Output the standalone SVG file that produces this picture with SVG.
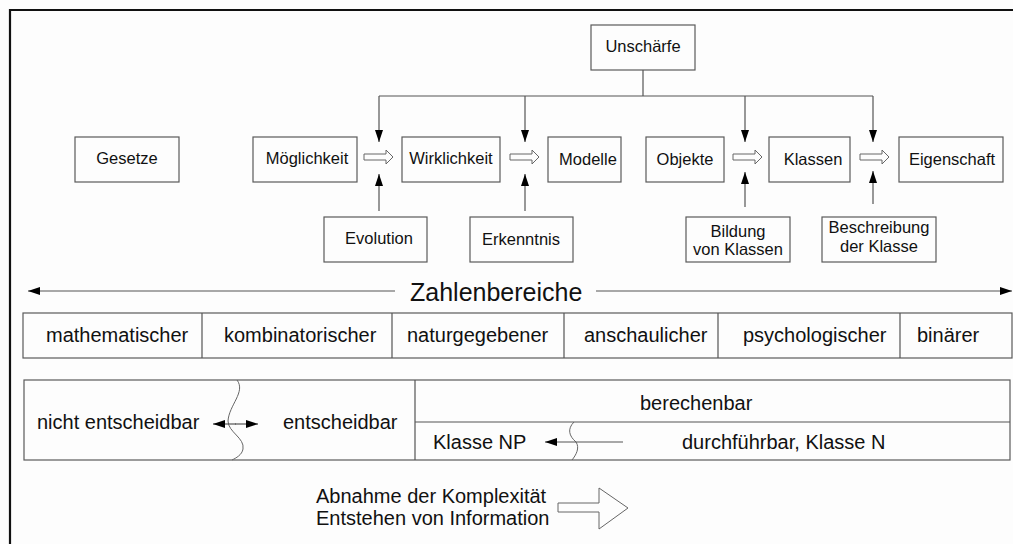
<svg xmlns="http://www.w3.org/2000/svg" width="1013" height="544" viewBox="0 0 1013 544">
<defs>
<style>
.box{fill:#fdfdfd;stroke:#5a5a5a;stroke-width:1.2}
.t{font-family:"Liberation Sans",Arial,sans-serif;font-size:16.5px;fill:#111}
.tc{text-anchor:middle}
.big{font-family:"Liberation Sans",Arial,sans-serif;font-size:20px;fill:#111}
.ln{fill:none;stroke:#555;stroke-width:1.2}
.hol{fill:#fdfdfd;stroke:#666;stroke-width:1}
.wave{fill:none;stroke:#666;stroke-width:1}
</style>
<marker id="ah" viewBox="0 0 12 8" refX="12" refY="4" markerWidth="12" markerHeight="8" markerUnits="userSpaceOnUse" orient="auto">
<path d="M0,0 L12,4 L0,8 Z" fill="#000"/>
</marker>
</defs>
<rect x="0" y="0" width="1013" height="544" fill="#fdfdfd"/>
<path d="M10,544 L10,10 L1013,10" fill="none" stroke="#111" stroke-width="2.2"/>

<g id="n-unschaerfe"><rect class="box" x="591" y="25" width="104" height="45"/><text class="t tc" x="643" y="52">Unschärfe</text></g>
<g id="n-gesetze"><rect class="box" x="75" y="137" width="104" height="45"/><text class="t tc" x="127" y="164">Gesetze</text></g>
<g id="n-moeglichkeit"><rect class="box" x="253" y="137" width="104" height="45"/><text class="t tc" x="307" y="164">Möglichkeit</text></g>
<g id="n-wirklichkeit"><rect class="box" x="402" y="137" width="98" height="45"/><text class="t tc" x="451" y="164">Wirklichkeit</text></g>
<g id="n-modelle"><rect class="box" x="548" y="137" width="73" height="45"/><text class="t tc" x="588" y="165">Modelle</text></g>
<g id="n-objekte"><rect class="box" x="646" y="137" width="78" height="45"/><text class="t tc" x="685" y="165">Objekte</text></g>
<g id="n-klassen"><rect class="box" x="769" y="137" width="81" height="45"/><text class="t tc" x="813" y="165">Klassen</text></g>
<g id="n-eigenschaft"><rect class="box" x="899" y="137" width="104" height="45"/><text class="t tc" x="952" y="165">Eigenschaft</text></g>
<g id="n-evolution"><rect class="box" x="324" y="217" width="103" height="45"/><text class="t tc" x="379" y="244">Evolution</text></g>
<g id="n-erkenntnis"><rect class="box" x="470" y="217" width="103" height="45"/><text class="t tc" x="521" y="245">Erkenntnis</text></g>
<g id="n-bildung"><rect class="box" x="686" y="217" width="104" height="45"/><text class="t tc" x="738" y="237">Bildung</text><text class="t tc" x="738" y="255">von Klassen</text></g>
<g id="n-beschreibung"><rect class="box" x="822" y="217" width="114" height="45"/><text class="t tc" x="879" y="233">Beschreibung</text><text class="t tc" x="879" y="252">der Klasse</text></g>

<g id="n-zahlenbereiche"><text x="410" y="301" font-family="Liberation Sans, Arial, sans-serif" font-size="25" fill="#111">Zahlenbereiche</text></g>

<g id="n-bereiche">
<rect class="box" x="23" y="313" width="989" height="45"/>
<path class="ln" d="M202,313 V358 M392,313 V358 M564,313 V358 M718,313 V358 M900,313 V358"/>
<text class="big" x="46" y="342">mathematischer</text>
<text class="big" x="224" y="342">kombinatorischer</text>
<text class="big" x="407" y="342">naturgegebener</text>
<text class="big" x="584" y="342">anschaulicher</text>
<text class="big" x="743" y="342">psychologischer</text>
<text class="big" x="917" y="342">binärer</text>
</g>

<g id="n-entscheidbarkeit">
<rect class="box" x="24" y="380" width="986" height="80"/>
<path class="ln" d="M415,380 V460 M415,422 H1010"/>
<path class="wave" d="M237,380 C246,392 229,405 228,421 C228,432 245,438 243,449 C242,455 236,458 232,460"/>
<path class="wave" d="M574,422 C567,429 569,436 576,442 C580,448 576,455 572,460"/>
<text class="big" x="37" y="429">nicht entscheidbar</text>
<text class="big" x="283" y="429">entscheidbar</text>
<text class="big" x="640" y="410">berechenbar</text>
<text class="big" x="433" y="449">Klasse NP</text>
<text class="big" x="682" y="449">durchführbar, Klasse N</text>
</g>

<g id="n-abnahme">
<text class="big" x="316" y="503">Abnahme der Komplexität</text>
<text class="big" x="316" y="525">Entstehen von Information</text>
</g>

<g id="connectors">
<path class="ln" d="M643,70 L643,96"/>
<path class="ln" d="M379,96 L873,96"/>
<path class="ln" d="M379,96 L379,142" marker-end="url(#ah)"/>
<path class="ln" d="M525,96 L525,142" marker-end="url(#ah)"/>
<path class="ln" d="M745,96 L745,142" marker-end="url(#ah)"/>
<path class="ln" d="M873,96 L873,142" marker-end="url(#ah)"/>
<path class="ln" d="M379,211 L379,174" marker-end="url(#ah)"/>
<path class="ln" d="M525,211 L525,174" marker-end="url(#ah)"/>
<path class="ln" d="M745,207 L745,172" marker-end="url(#ah)"/>
<path class="ln" d="M873,204 L873,171" marker-end="url(#ah)"/>
<path class="hol" d="M364,154 L386,154 L386,150 L393,157 L386,164 L386,160 L364,160 Z"/>
<path class="hol" d="M510,154 L532,154 L532,150 L539,157 L532,164 L532,160 L510,160 Z"/>
<path class="hol" d="M733,154 L755,154 L755,150 L762,157 L755,164 L755,160 L733,160 Z"/>
<path class="hol" d="M860,154 L882,154 L882,150 L889,157 L882,164 L882,160 L860,160 Z"/>
<path class="ln" d="M395,291 L28,291" marker-end="url(#ah)"/>
<path class="ln" d="M596,291 L1012,291" marker-end="url(#ah)"/>
<path class="ln" d="M236,424 L213,424" marker-end="url(#ah)"/>
<path class="ln" d="M235,424 L258,424" marker-end="url(#ah)"/>
<path class="ln" d="M623,442 L545,442" marker-end="url(#ah)"/>
<path class="hol" d="M558,503 L599,503 L599,488 L628,508 L599,529 L599,512 L558,512 Z"/>
</g>
</svg>
